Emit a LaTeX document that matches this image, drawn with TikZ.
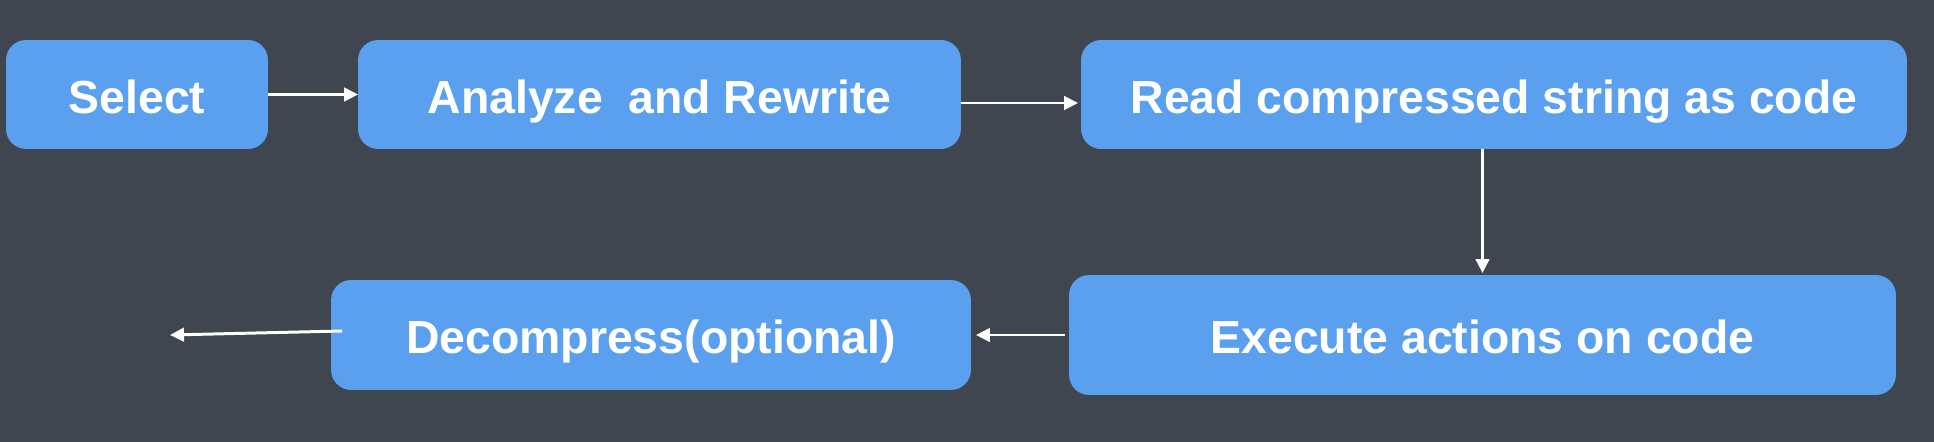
\documentclass[tikz,border=0pt]{standalone}
\usepackage{fontspec}
\setmainfont{Liberation Sans}
\usepackage{tikz}
\usetikzlibrary{arrows.meta}
\usetikzlibrary{calc}

\definecolor{bg_gray}{HTML}{3F4650}
\definecolor{box_blue}{HTML}{5AA0EF}

\begin{document}
\begin{tikzpicture}[x=0.02cm, y=-0.02cm,
        node_style/.style={rectangle,rounded corners=0.4cm,fill=box_blue,draw=none,
            inner sep=0pt,outer sep=0pt,text=white,text height=0.76cm,text depth=0cm,
            font=\fontsize{26.4}{30}\selectfont\bfseries},
        edge_style/.style={color=white, line width=1.7pt,
            -{Triangle[length=0.28cm,width=0.27cm]}}]

        \fill [bg_gray] (0,0) rectangle (1934,442);

        \node [node_style,minimum width=5.24cm,minimum height=2.18cm](n1) at (137,94.5) {Select};

        \node [node_style,minimum width=12.06cm,minimum height=2.18cm](n2) at (659.5,94.5) {Analyze~ and Rewrite};

        \node [node_style,minimum width=16.52cm,minimum height=2.18cm](n3) at (1494,94.5) {Read compressed string as code};

        \node [node_style,minimum width=16.54cm,minimum height=2.40cm](n4) at (1482.5,335) {Execute actions on code};

        \node [node_style,minimum width=12.8cm,minimum height=2.2cm](n5) at (651,335) {Decompress(optional)};

        \coordinate (n6) at (170,335);

        \draw [edge_style] (n1) -- (n2);

        \draw [edge_style] ([yshift=-0.17cm]n2.east) -- ([yshift=-0.17cm,xshift=-0.06cm]n3.west);

        \draw [edge_style] (n3.south -| n4.north) -- ([yshift=0.04cm]n4.north);

        \draw [edge_style,shorten <=0.08cm,shorten >=0.1cm] (n4) -- (n5);

        \draw [edge_style] ([xshift=0.22cm,yshift=0.08cm]n5.west) -- (n6);

        \end{tikzpicture}
\end{document}
